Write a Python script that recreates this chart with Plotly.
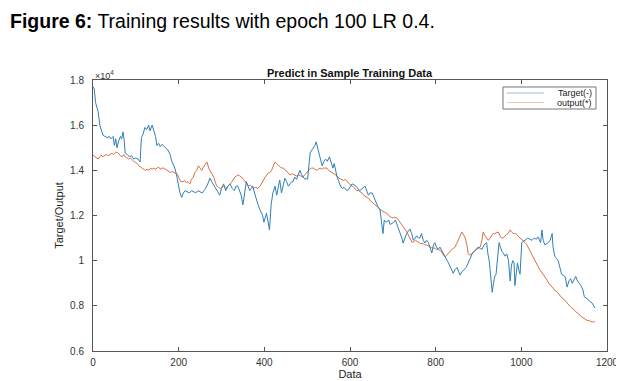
import plotly.graph_objects as go

# Target series (data index, value in units of 1e4)
target_idx = [0,3,6,9,12,16,20,23,28,33,38,42,47,50,53,56,60,64,67,70,73,75,80,85,90,95,100,105,110,113,117,121,125,130,133,138,143,146,149,153,157,161,164,168,172,175,180,184,188,191,195,199,203,207,211,215,220,225,230,235,240,245,250,255,259,263,268,273,277,282,287,292,296,300,305,310,315,320,325,330,334,338,342,346,350,354,358,362,366,370,373,377,381,385,390,393,396,399,402,405,408,412,416,420,425,429,432,436,440,444,448,452,456,460,464,467,471,475,479,483,487,491,495,498,501,504,507,511,515,518,521,524,527,531,535,539,543,547,552,556,560,563,566,570,574,578,582,586,590,594,598,602,605,610,614,618,622,626,630,635,639,643,647,652,656,660,665,670,673,677,680,685,690,694,698,702,706,710,714,718,721,724,728,732,736,740,744,748,752,756,760,763,767,771,775,779,783,787,791,795,798,802,806,810,815,820,826,830,835,841,845,850,854,857,861,866,871,876,880,885,890,895,899,904,908,913,919,922,925,927,930,932,935,938,941,944,948,951,955,959,962,966,970,974,977,980,983,985,988,991,994,997,1001,1005,1010,1015,1020,1025,1030,1035,1039,1042,1045,1048,1051,1055,1059,1063,1067,1072,1074,1078,1082,1086,1090,1094,1098,1102,1107,1111,1115,1119,1123,1127,1131,1135,1139,1144,1147,1151,1155,1160,1165,1168,1172]
target_val = [1.77,1.76,1.70,1.68,1.66,1.60,1.58,1.556,1.55,1.545,1.55,1.54,1.55,1.51,1.54,1.50,1.53,1.55,1.54,1.57,1.53,1.477,1.47,1.46,1.465,1.45,1.455,1.45,1.437,1.545,1.56,1.59,1.58,1.60,1.575,1.60,1.57,1.55,1.51,1.52,1.505,1.515,1.51,1.50,1.495,1.49,1.47,1.44,1.42,1.41,1.38,1.335,1.30,1.28,1.30,1.31,1.305,1.30,1.31,1.305,1.30,1.31,1.305,1.30,1.31,1.32,1.34,1.365,1.35,1.335,1.32,1.30,1.29,1.32,1.34,1.31,1.33,1.34,1.32,1.31,1.33,1.33,1.31,1.29,1.247,1.30,1.35,1.33,1.31,1.32,1.33,1.30,1.27,1.25,1.225,1.21,1.20,1.17,1.19,1.21,1.18,1.136,1.25,1.30,1.33,1.29,1.32,1.357,1.30,1.34,1.365,1.35,1.33,1.34,1.35,1.35,1.37,1.36,1.38,1.40,1.38,1.37,1.36,1.365,1.36,1.42,1.477,1.49,1.50,1.51,1.526,1.50,1.47,1.45,1.42,1.44,1.45,1.44,1.46,1.43,1.41,1.43,1.40,1.37,1.35,1.33,1.32,1.325,1.315,1.31,1.32,1.33,1.34,1.335,1.33,1.32,1.31,1.315,1.32,1.33,1.31,1.29,1.30,1.30,1.28,1.26,1.24,1.225,1.17,1.12,1.18,1.17,1.18,1.16,1.165,1.17,1.18,1.16,1.14,1.12,1.10,1.078,1.10,1.12,1.13,1.14,1.12,1.09,1.10,1.11,1.10,1.10,1.12,1.09,1.078,1.09,1.08,1.06,1.034,1.07,1.08,1.06,1.05,1.06,1.04,1.02,1.003,0.99,0.97,0.944,0.96,0.97,0.95,0.936,0.95,0.96,0.97,0.99,1.01,1.03,1.04,1.05,1.06,1.055,1.05,1.07,1.08,1.03,1.00,0.96,0.90,0.86,0.90,0.93,0.94,1.00,1.08,1.06,1.04,1.03,1.02,1.03,1.00,0.91,0.98,1.00,0.99,0.89,0.95,0.99,0.96,0.94,1.08,1.085,1.09,1.10,1.095,1.09,1.10,1.095,1.105,1.09,1.08,1.136,1.09,1.07,1.075,1.08,1.09,1.12,1.06,1.02,1.01,1.00,0.97,0.94,0.935,0.93,0.883,0.91,0.92,0.90,0.915,0.93,0.91,0.90,0.89,0.87,0.84,0.835,0.83,0.82,0.813,0.80,0.79]

# Output series (data index, value in units of 1e4)
output_idx = [0,4,8,12,16,19,23,27,31,35,40,44,48,52,56,60,64,68,72,75,79,83,87,91,95,99,103,107,110,114,118,122,126,130,134,138,142,146,149,153,157,161,165,169,173,177,181,185,189,193,198,201,205,210,214,218,222,226,230,234,238,242,246,250,254,258,262,266,270,274,278,282,286,289,293,297,301,305,309,313,318,323,327,331,335,339,343,347,351,355,359,363,367,371,375,380,385,390,394,398,402,406,410,413,417,421,425,429,433,437,441,445,449,453,457,460,465,470,475,480,485,490,494,498,502,506,510,514,518,522,526,530,534,538,542,546,550,554,558,562,566,570,574,578,581,585,589,593,597,601,605,609,613,616,620,624,628,632,636,640,644,648,651,655,659,663,667,671,675,680,686,690,694,698,702,706,709,713,717,721,725,729,733,737,741,745,749,753,757,761,765,770,774,778,782,786,790,794,798,802,806,810,814,818,822,826,830,834,838,842,845,849,853,857,861,865,869,873,876,880,884,888,892,896,900,904,908,911,915,919,923,927,931,934,938,942,946,950,954,957,961,965,969,974,978,982,986,990,994,997,1001,1005,1009,1013,1017,1020,1024,1028,1032,1036,1039,1043,1047,1051,1055,1060,1064,1068,1072,1076,1080,1084,1088,1092,1095,1099,1103,1107,1111,1115,1118,1122,1126,1130,1134,1138,1142,1146,1150,1154,1158,1162,1166,1169,1172]
output_val = [1.467,1.46,1.455,1.45,1.46,1.467,1.46,1.465,1.47,1.465,1.47,1.475,1.47,1.48,1.48,1.475,1.465,1.46,1.47,1.46,1.456,1.45,1.455,1.445,1.44,1.435,1.43,1.42,1.415,1.41,1.405,1.40,1.405,1.40,1.41,1.405,1.41,1.405,1.41,1.415,1.405,1.41,1.41,1.405,1.40,1.395,1.39,1.395,1.39,1.385,1.38,1.365,1.35,1.35,1.355,1.345,1.35,1.34,1.36,1.37,1.39,1.40,1.42,1.41,1.40,1.415,1.425,1.437,1.41,1.395,1.38,1.37,1.345,1.33,1.325,1.32,1.325,1.33,1.32,1.325,1.335,1.345,1.36,1.37,1.375,1.38,1.375,1.37,1.36,1.35,1.34,1.33,1.335,1.325,1.32,1.325,1.32,1.33,1.345,1.36,1.37,1.38,1.39,1.39,1.40,1.42,1.437,1.43,1.42,1.415,1.41,1.41,1.40,1.395,1.385,1.38,1.385,1.38,1.375,1.38,1.375,1.37,1.38,1.39,1.40,1.405,1.41,1.41,1.405,1.40,1.405,1.41,1.405,1.41,1.41,1.41,1.40,1.395,1.39,1.385,1.38,1.375,1.365,1.36,1.357,1.355,1.36,1.35,1.34,1.335,1.33,1.325,1.315,1.31,1.31,1.305,1.30,1.29,1.285,1.28,1.275,1.265,1.26,1.255,1.245,1.24,1.235,1.225,1.22,1.215,1.21,1.20,1.195,1.19,1.19,1.19,1.19,1.18,1.17,1.16,1.15,1.14,1.127,1.11,1.095,1.08,1.085,1.09,1.085,1.08,1.075,1.078,1.07,1.07,1.065,1.06,1.058,1.056,1.055,1.05,1.05,1.045,1.04,1.025,1.017,1.025,1.035,1.04,1.05,1.055,1.06,1.075,1.09,1.11,1.127,1.115,1.10,1.07,1.03,1.025,1.03,1.04,1.045,1.05,1.055,1.06,1.09,1.127,1.11,1.10,1.09,1.10,1.115,1.12,1.12,1.125,1.127,1.11,1.10,1.10,1.11,1.115,1.12,1.136,1.125,1.12,1.12,1.115,1.105,1.10,1.095,1.09,1.08,1.07,1.055,1.047,1.03,1.015,1.00,0.985,0.97,0.96,0.95,0.94,0.93,0.914,0.90,0.89,0.88,0.875,0.865,0.86,0.85,0.84,0.835,0.83,0.82,0.81,0.80,0.795,0.79,0.785,0.775,0.77,0.765,0.755,0.75,0.745,0.74,0.735,0.735,0.73,0.73,0.728,0.73]

x_ticks = [0, 200, 400, 600, 800, 1000, 1200]
y_ticks = [0.6, 0.8, 1.0, 1.2, 1.4, 1.6, 1.8]
y_tick_text = ["0.6", "0.8", "1", "1.2", "1.4", "1.6", "1.8"]
legend_names = ["Target(-)", "output(*)"]

BLUE = "#2F7FB5"
ORANGE = "#D9703F"
FONT = "Liberation Sans, Arial"

# The page body has an 8px margin, so the figure is drawn 8px right/down.
OFF = 8
FIG_W, FIG_H = 624 - OFF, 381 - OFF
# plot-area geometry in page pixels
L, T, W, H = 93, 80, 514, 271
def px(x): return (x - L) / W
def py(y): return 1 - (y - T) / H

fig = go.Figure()
fig.add_trace(go.Scatter(x=output_idx, y=output_val, mode="lines", name=legend_names[1],
                         line=dict(color=ORANGE, width=1), showlegend=False))
fig.add_trace(go.Scatter(x=target_idx, y=target_val, mode="lines", name=legend_names[0],
                         line=dict(color=BLUE, width=1), showlegend=False))

axis_common = dict(showline=True, linecolor="#555555", linewidth=1, mirror="ticks",
                   ticks="inside", ticklen=4, tickcolor="#555555", showgrid=False,
                   zeroline=False, automargin=False,
                   tickfont=dict(family=FONT, size=10, color="#333333"))

fig.update_xaxes(range=[0, 1200], tickvals=x_ticks, ticklabelstandoff=2, **axis_common,
                 title=dict(text="Data", font=dict(family=FONT, size=11, color="#222222"), standoff=0))
fig.update_yaxes(range=[0.6, 1.8], tickvals=y_ticks, ticktext=y_tick_text, ticklabelstandoff=6, **axis_common,
                 title=dict(text="Target/Output", font=dict(family=FONT, size=11, color="#222222"), standoff=4))

shapes = [
    # legend box
    dict(type="rect", xref="paper", yref="paper", x0=px(503), x1=px(596), y0=py(109), y1=py(87),
         line=dict(color="#777777", width=1), fillcolor="white", layer="above"),
    dict(type="line", xref="paper", yref="paper", x0=px(507), x1=px(544), y0=py(93), y1=py(93),
         line=dict(color="#8FC0DE", width=1), layer="above"),
    dict(type="line", xref="paper", yref="paper", x0=px(507), x1=px(544), y0=py(102.5), y1=py(102.5),
         line=dict(color="#EFC9A8", width=1), layer="above"),
]

annotations = [
    dict(text="<b>Figure 6:</b> Training results with epoch 100 LR 0.4.", xref="paper", yref="paper",
         x=px(8), y=py(8), xanchor="left", yanchor="top", showarrow=False,
         font=dict(family=FONT, size=19.5, color="#000000")),
    dict(text="<b>Predict in Sample Training Data</b>", xref="paper", yref="paper",
         x=0.5, y=py(73), xanchor="center", yanchor="middle", showarrow=False,
         font=dict(family=FONT, size=11, color="#111111")),
    dict(text="×10<sup>4</sup>", xref="paper", yref="paper",
         x=px(93), y=py(75), xanchor="left", yanchor="middle", showarrow=False,
         font=dict(family=FONT, size=9, color="#333333")),
    dict(text=legend_names[0], xref="paper", yref="paper", x=px(594), y=py(93),
         xanchor="right", yanchor="middle", showarrow=False,
         font=dict(family=FONT, size=9, color="#222222")),
    dict(text=legend_names[1], xref="paper", yref="paper", x=px(594), y=py(102.5),
         xanchor="right", yanchor="middle", showarrow=False,
         font=dict(family=FONT, size=9, color="#222222")),
]

fig.update_layout(
    width=FIG_W, height=FIG_H,
    margin=dict(l=L - OFF, r=FIG_W - (L - OFF) - W, t=T - OFF, b=FIG_H - (T - OFF) - H),
    paper_bgcolor="white", plot_bgcolor="white",
    showlegend=False,
    shapes=shapes,
    annotations=annotations,
)

fig.write_html("out.html")
